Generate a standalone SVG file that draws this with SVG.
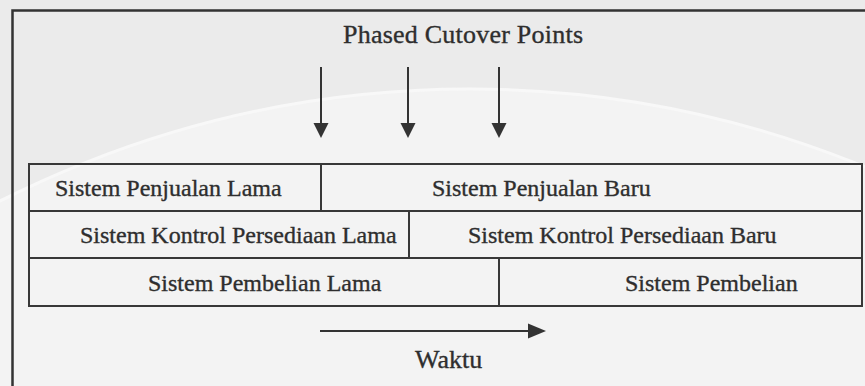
<svg xmlns="http://www.w3.org/2000/svg" width="865" height="386" viewBox="0 0 865 386">
  <style>
    .frame { fill: none; stroke: #333; stroke-width: 2.5; }
    .cell { fill: none; stroke: #383838; stroke-width: 2; }
    .conn { stroke: #333; stroke-width: 2; fill: none; }
    .head { fill: #333; }
    .lbl { font-family: "Liberation Serif", "Times New Roman", serif; font-size: 24px; fill: #2e2e2e; stroke: #2e2e2e; stroke-width: 0.35; }
    .cap { font-family: "Liberation Serif", "Times New Roman", serif; font-size: 26px; fill: #2e2e2e; stroke: #2e2e2e; stroke-width: 0.35; }
  </style>

  <!-- page background with faint seal -->
  <rect x="0" y="0" width="865" height="386" fill="#ebebeb"/>
  <circle cx="470" cy="1130" r="1041" fill="#f3f3f3" stroke="#f8f8f8" stroke-width="3"/>

  <!-- outer frame (open to the right and bottom) -->
  <path class="frame" d="M12.5,386 V10.5 H865"/>

  <text class="cap" x="343" y="43" textLength="240">Phased Cutover Points</text>

  <!-- cutover arrows and time axis -->
  <g id="connectors">
    <line class="conn" x1="321" y1="67" x2="321" y2="125"/>
    <polygon class="head" points="313.5,123 328.5,123 321,138"/>
    <line class="conn" x1="408" y1="67" x2="408" y2="125"/>
    <polygon class="head" points="400.5,123 415.5,123 408,138"/>
    <line class="conn" x1="499" y1="67" x2="499" y2="125"/>
    <polygon class="head" points="491.5,123 506.5,123 499,138"/>
    <line class="conn" x1="320" y1="331" x2="530" y2="331"/>
    <polygon class="head" points="528,323.5 546,331 528,338.5"/>
  </g>

  <!-- row 1: sales -->
  <g id="penjualan-lama">
    <rect class="cell" x="29" y="164" width="292" height="47"/>
    <text class="lbl" x="55" y="196">Sistem Penjualan Lama</text>
  </g>
  <g id="penjualan-baru">
    <rect class="cell" x="321" y="164" width="541" height="47"/>
    <text class="lbl" x="432" y="196">Sistem Penjualan Baru</text>
  </g>

  <!-- row 2: inventory control -->
  <g id="kontrol-lama">
    <rect class="cell" x="29" y="211" width="380" height="47"/>
    <text class="lbl" x="80" y="243">Sistem Kontrol Persediaan Lama</text>
  </g>
  <g id="kontrol-baru">
    <rect class="cell" x="409" y="211" width="453" height="47"/>
    <text class="lbl" x="468" y="243">Sistem Kontrol Persediaan Baru</text>
  </g>

  <!-- row 3: purchasing -->
  <g id="pembelian-lama">
    <rect class="cell" x="29" y="258" width="470" height="48"/>
    <text class="lbl" x="148" y="291">Sistem Pembelian Lama</text>
  </g>
  <g id="pembelian-baru">
    <rect class="cell" x="499" y="258" width="363" height="48"/>
    <text class="lbl" x="625" y="291">Sistem Pembelian</text>
  </g>

  <text class="cap" x="415" y="368">Waktu</text>
</svg>
